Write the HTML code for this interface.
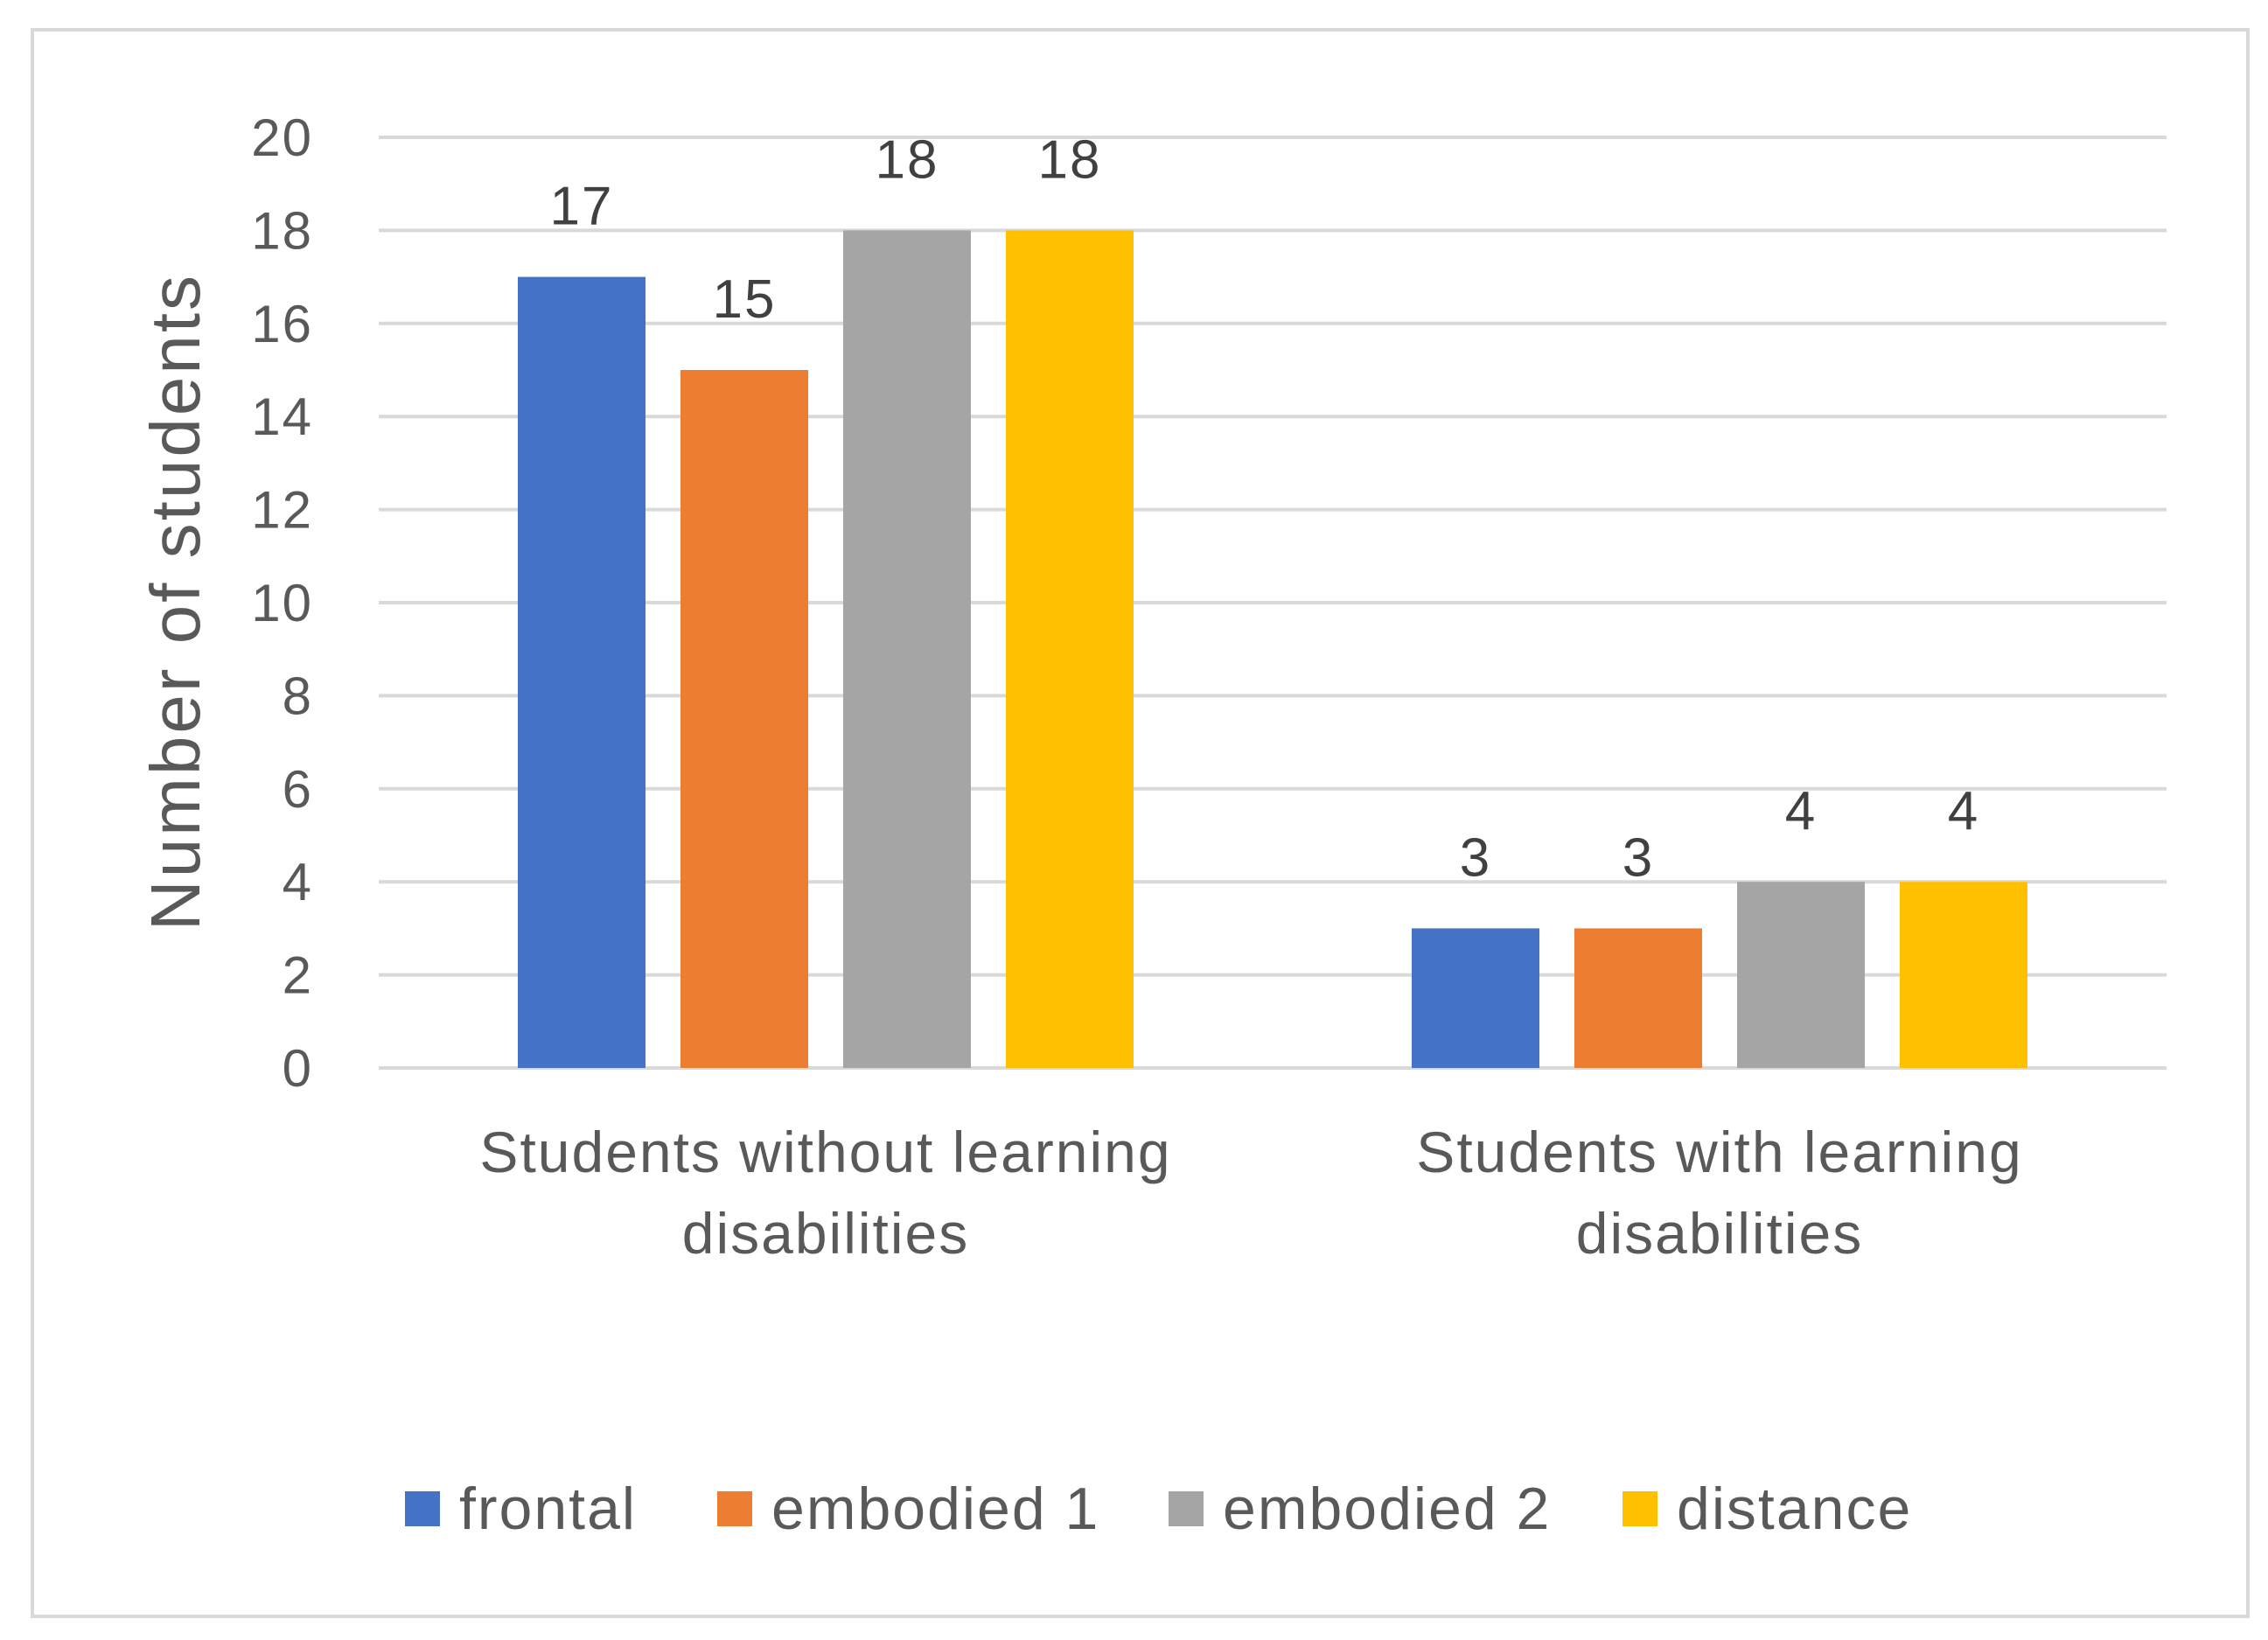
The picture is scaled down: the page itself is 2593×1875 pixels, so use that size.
<!DOCTYPE html>
<html><head><meta charset="utf-8"><style>
body{margin:0;background:#fff;}
svg{display:block;font-family:"Liberation Sans",sans-serif;}
</style></head><body>
<svg id="chart" width="2593" height="1875" viewBox="0 0 2593 1875">
<rect x="37" y="34" width="2533" height="1814" fill="#fff" stroke="#d9d9d9" stroke-width="4"/>
<g id="grid"></g><g id="bars"></g><g id="labels"></g>
<text transform="translate(228,688) rotate(-90)" text-anchor="middle" font-size="80" letter-spacing="3" fill="#595959">Number of students</text>
<g id="legend"></g>
</svg>
<script>
const categories=[["Students without learning","disabilities"],["Students with learning","disabilities"]];
const seriesNames=["frontal","embodied 1","embodied 2","distance"];
const seriesColors=["#4472c4","#ed7d31","#a5a5a5","#ffc000"];
const frontal=[17,3];
const embodied1=[15,3];
const embodied2=[18,4];
const distance=[18,4];
const yTicks=[0,2,4,6,8,10,12,14,16,18,20];
const series=[frontal,embodied1,embodied2,distance];
const NS="http://www.w3.org/2000/svg";
const x0=433,x1=2477,yTop=157,yBot=1221,yMax=20;
const y=v=>yBot-(v/yMax)*(yBot-yTop);
const catW=(x1-x0)/categories.length;
const barW=146,gap=40;
function mk(tag,attrs,parent,txt){const e=document.createElementNS(NS,tag);for(const k in attrs)e.setAttribute(k,attrs[k]);if(txt!==undefined)e.textContent=txt;parent.appendChild(e);return e;}
const grid=document.getElementById('grid'),bars=document.getElementById('bars'),labels=document.getElementById('labels'),legend=document.getElementById('legend');
yTicks.forEach(t=>{
 const l=mk('line',{x1:x0,x2:x1,y1:y(t),y2:y(t),stroke:'#d9d9d9','stroke-width':4},grid);
 
 
 const tx=mk('text',{x:358,y:y(t)+21,'text-anchor':'end','font-size':60,'letter-spacing':2,fill:'#595959'},grid,t);
 
 
});
categories.forEach((c,ci)=>{
 const cx=x0+catW*(ci+0.5);
 const total=series.length*barW+(series.length-1)*gap;
 series.forEach((s,si)=>{
  const bx=cx-total/2+si*(barW+gap);
  const r=mk('rect',{x:bx,y:y(s[ci]),width:barW,height:yBot-y(s[ci]),fill:seriesColors[si]},bars);
  
  
  const t=mk('text',{x:bx+barW/2,y:y(s[ci])-60,'text-anchor':'middle','font-size':62,'letter-spacing':2,fill:'#404040'},labels,s[ci]);
  
  
 });
 c.forEach((line,li)=>{
  const t=mk('text',{x:cx,y:1340+li*93,'text-anchor':'middle','font-size':66,'letter-spacing':2,fill:'#595959'},labels,line);
  
  
 });
});
const legX=[463,820,1336,1855];
seriesNames.forEach((n,i)=>{
 const r=mk('rect',{x:legX[i],y:1705,width:40,height:40,fill:seriesColors[i]},legend);
 
 
 const t=mk('text',{x:legX[i]+62,y:1748,'font-size':68,'letter-spacing':2,fill:'#595959'},legend,n);
 
 
});
</script>
</body></html>
